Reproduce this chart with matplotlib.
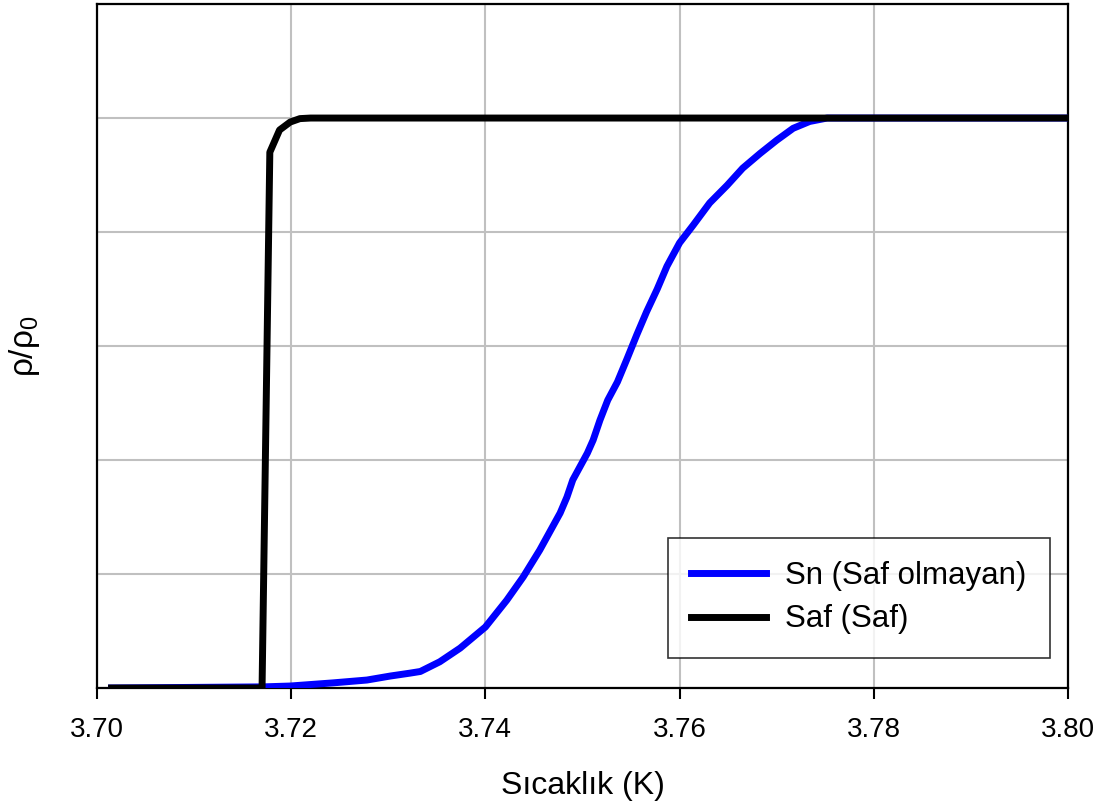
import matplotlib
matplotlib.use("Agg")
import matplotlib.pyplot as plt

plt.rcParams['font.family'] = ['Liberation Sans', 'DejaVu Sans']
plt.rcParams['mathtext.fontset'] = 'custom'
plt.rcParams['mathtext.rm'] = 'Liberation Sans'
plt.rcParams['mathtext.it'] = 'Liberation Sans'

# impure sample: gradual transition
t_impure = [3.7015, 3.7171, 3.7199, 3.7243, 3.7278, 3.7302, 3.7322, 3.7333,
            3.7353, 3.7374, 3.7400, 3.7422, 3.7439, 3.7456, 3.7477, 3.7484,
            3.7490, 3.7505, 3.7511, 3.7518, 3.7526, 3.7536, 3.7546, 3.7556,
            3.7566, 3.7577, 3.7587, 3.7600, 3.7614, 3.7631, 3.7649, 3.7665,
            3.7683, 3.7700, 3.7717, 3.7734, 3.7752, 3.8000]
r_impure = [0.0, 0.002, 0.0035, 0.009, 0.014, 0.021, 0.026, 0.029,
            0.046, 0.070, 0.107, 0.154, 0.195, 0.242, 0.307, 0.335,
            0.365, 0.412, 0.435, 0.470, 0.505, 0.537, 0.578, 0.620,
            0.660, 0.700, 0.740, 0.781, 0.812, 0.851, 0.882, 0.912,
            0.938, 0.961, 0.982, 0.994, 1.0, 1.0]

# pure sample: sharp transition
t_pure = [3.7015, 3.7170, 3.7178, 3.7188, 3.7199, 3.7209, 3.7220, 3.8000]
r_pure = [0.0, 0.0, 0.940, 0.979, 0.993, 0.999, 1.0, 1.0]

labels = ['Sn (Saf olmayan)', 'Saf (Saf)']
xticks = [3.70, 3.72, 3.74, 3.76, 3.78, 3.80]
yticks = [0.0, 0.2, 0.4, 0.6, 0.8, 1.0, 1.2]

fig = plt.figure(figsize=(11.06, 8.10), dpi=100)
ax = fig.add_axes([0.0877, 0.1506, 0.8779, 0.8444])

ax.plot(t_impure, r_impure, color='#0000ff', lw=5.0, label=labels[0],
        solid_joinstyle='round', zorder=3)
ax.plot(t_pure, r_pure, color='black', lw=5.0, label=labels[1],
        solid_joinstyle='round', zorder=4)

ax.set_xlim(3.70, 3.80)
ax.set_ylim(0, 1.2)
ax.set_xticks(xticks)
ax.set_xticklabels([f'{v:.2f}' for v in xticks])
ax.set_yticks(yticks)
ax.set_yticklabels([])
ax.tick_params(axis='y', length=0)
ax.tick_params(axis='x', direction='out', length=8, width=1.5,
               labelsize=20, pad=13)
ax.grid(True, color='#c0c0c0', lw=1.5)
ax.set_axisbelow(True)
for s in ax.spines.values():
    s.set_linewidth(1.6)
    s.set_color('black')

ax.set_xlabel('Sıcaklık (K)', fontsize=23, labelpad=20)
ax.set_ylabel(r'ρ/ρ$_0$', fontsize=24, labelpad=36)

leg = ax.legend(loc='lower right', bbox_to_anchor=(0.981, 0.044),
                fontsize=22.5, frameon=True, fancybox=False, edgecolor='black',
                handlelength=2.4, handletextpad=0.6, borderpad=0.75,
                labelspacing=0.42, borderaxespad=0)
leg.get_frame().set_linewidth(1.2)

fig.savefig('out.png', dpi=100)
